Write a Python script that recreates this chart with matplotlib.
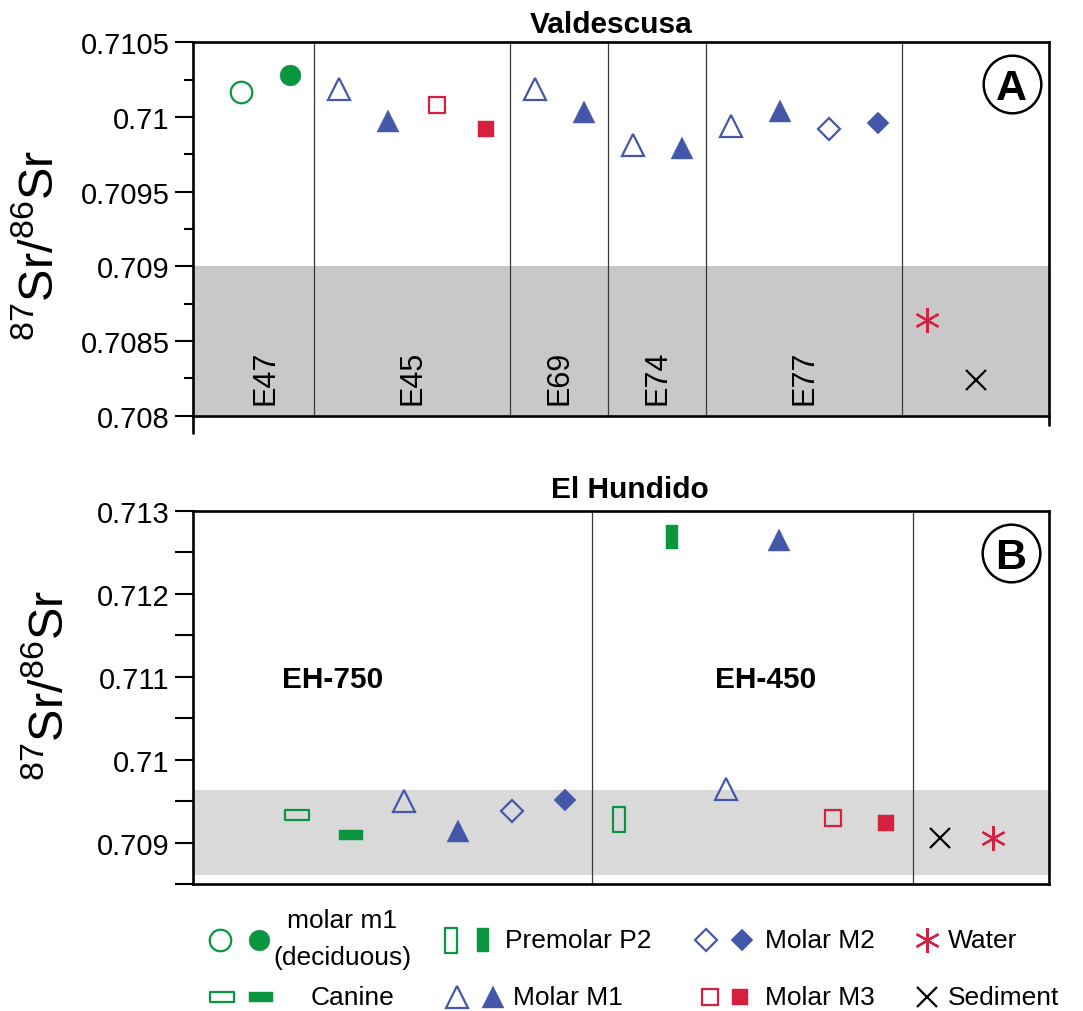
import matplotlib
matplotlib.use("Agg")
import matplotlib.pyplot as plt
import matplotlib.transforms as mtransforms
from matplotlib.path import Path
from matplotlib.ticker import AutoMinorLocator

plt.rcParams['font.family'] = ['Liberation Sans', 'DejaVu Sans']
plt.rcParams['mathtext.fontset'] = 'custom'
plt.rcParams['mathtext.rm'] = 'Liberation Sans'
plt.rcParams['mathtext.default'] = 'regular'

# ---------------- data ----------------
top_title = "Valdescusa"
top_groups = ["E47", "E45", "E69", "E74", "E77", ""]
top_sample_group = [0, 0, 1, 1, 1, 1, 2, 2, 3, 3, 4, 4, 4, 4, 5, 5]
top_tooth = ["m1", "m1", "M1", "M1", "M3", "M3", "M1", "M1", "M1", "M1",
             "M1", "M1", "M2", "M2", "Water", "Sediment"]
top_filled = [0, 1, 0, 1, 0, 1, 0, 1, 0, 1, 0, 1, 0, 1, 0, 0]
top_values = [0.71017, 0.71028, 0.71019, 0.70997, 0.71008, 0.70992,
              0.71019, 0.71003, 0.70981, 0.70979, 0.70994, 0.71004,
              0.70992, 0.70996, 0.70864, 0.70824]
top_band = [0.708, 0.709]
top_yticks = [0.708, 0.7085, 0.709, 0.7095, 0.710, 0.7105]
top_yticklabels = ["0.708", "0.7085", "0.709", "0.7095", "0.71", "0.7105"]

bot_title = "El Hundido"
bot_groups = ["EH-750", "EH-450", ""]
bot_sample_group = [0, 0, 0, 0, 0, 0, 1, 1, 1, 1, 1, 1, 2, 2]
bot_tooth = ["C", "C", "M1", "M1", "M2", "M2", "P2", "P2", "M1", "M1",
             "M3", "M3", "Sediment", "Water"]
bot_filled = [0, 1, 0, 1, 0, 1, 0, 1, 0, 1, 0, 1, 0, 0]
bot_values = [0.70933, 0.70909, 0.70950, 0.70914, 0.70938, 0.70951,
              0.70928, 0.71268, 0.70964, 0.71265, 0.70930, 0.70924,
              0.70905, 0.70905]
bot_band = [0.70861, 0.70963]
bot_yticks = [0.709, 0.710, 0.711, 0.712, 0.713]
bot_yticklabels = ["0.709", "0.71", "0.711", "0.712", "0.713"]

legend_rows = [
    [("m1", "molar m1\n(deciduous)"), ("P2", "Premolar P2"), ("M2", "Molar M2"), ("Water", "Water")],
    [("C", "Canine"), ("M1", "Molar M1"), ("M3", "Molar M3"), ("Sediment", "Sediment")],
]

# ---------------- styles ----------------
GREEN = "#0a9641"
BLUE = "#4457a9"
RED = "#d6203f"
rect_wide = Path([(-1, -0.45), (1, -0.45), (1, 0.45), (-1, 0.45), (-1, -0.45)], closed=True)
rect_tall = Path([(-0.46, -1), (0.46, -1), (0.46, 1), (-0.46, 1), (-0.46, -1)], closed=True)
STYLE = {
    "m1": dict(marker="o", color=GREEN, ms_open=15.5, ms_fill=15),
    "C": dict(marker=rect_wide, color=GREEN, ms_open=17.5, ms_fill=17.5),
    "P2": dict(marker=rect_tall, color=GREEN, ms_open=18, ms_fill=17.5),
    "M1": dict(marker="^", color=BLUE, ms_open=16.5, ms_fill=15.5),
    "M2": dict(marker="D", color=BLUE, ms_open=11.5, ms_fill=11),
    "M3": dict(marker="s", color=RED, ms_open=12, ms_fill=11.5),
    "Water": dict(marker=(6, 2, 0), color=RED, ms=18),
    "Sediment": dict(marker="x", color="black", ms=14),
}


def draw_marker(ax, x, y, tooth, filled, **kw):
    st = STYLE[tooth]
    if tooth in ("Water", "Sediment"):
        ax.plot([x], [y], ls="none", marker=st["marker"], ms=st["ms"],
                color=st["color"], mew=1.6, zorder=5, **kw)
    elif filled:
        ax.plot([x], [y], ls="none", marker=st["marker"], ms=st["ms_fill"],
                mfc=st["color"], mec=st["color"], mew=0.3, zorder=5, **kw)
    else:
        ax.plot([x], [y], ls="none", marker=st["marker"], ms=st["ms_open"],
                mfc="none", mec=st["color"], mew=1.6, zorder=5, **kw)


W, H = 1083, 1012
fig = plt.figure(figsize=(W / 100, H / 100), dpi=100)


def px_axes(l, t, r, b):
    return fig.add_axes([l / W, 1 - b / H, (r - l) / W, (b - t) / H])


def setup_panel(ax, groups_of, tooth, filled, values, band, band_color,
                yticks, yticklabels, ylim, xlim, minor_len):
    ax.set_xlim(*xlim)
    ax.set_ylim(*ylim)
    ax.axhspan(band[0], band[1], color=band_color, lw=0, zorder=0)
    for i in range(len(groups_of) - 1):
        if groups_of[i] != groups_of[i + 1]:
            ax.axvline(i + 0.5, color="#3a3a3a", lw=0.9, zorder=1)
    for i, (t, f, v) in enumerate(zip(tooth, filled, values)):
        draw_marker(ax, i, v, t, f)
    ax.set_xticks([])
    ax.set_yticks(yticks)
    ax.set_yticklabels(yticklabels)
    ax.yaxis.set_minor_locator(AutoMinorLocator(2))
    ax.tick_params(axis="y", which="major", length=13, width=1.5, pad=4,
                   labelsize=21, direction="out")
    ax.tick_params(axis="y", which="minor", length=minor_len, width=1.5,
                   direction="out")
    for s in ax.spines.values():
        s.set_linewidth(1.9)
        s.set_zorder(6)


# ---------------- top panel ----------------
ax1 = px_axes(193, 43.3, 1049, 416.7)
setup_panel(ax1, top_sample_group, top_tooth, top_filled, top_values, top_band,
            "#c8c8c8", top_yticks, top_yticklabels, (0.708, 0.7105),
            (-0.98, 16.5), 6.5)
trans1 = mtransforms.blended_transform_factory(ax1.transData, ax1.transAxes)
for g, name in enumerate(top_groups):
    if not name:
        continue
    xs = [i for i, gg in enumerate(top_sample_group) if gg == g]
    ax1.text(sum(xs) / len(xs), 0.031, name, transform=trans1, rotation=90,
             ha="center", va="bottom", fontsize=22, zorder=4)
ax1.plot([0, 0], [0, -0.048], transform=ax1.transAxes, color="black", lw=1.9,
         clip_on=False, solid_capstyle="butt")
ax1.plot([1, 1], [0, -0.028], transform=ax1.transAxes, color="black", lw=1.9,
         clip_on=False, solid_capstyle="butt")
ax1.plot([0.9564], [0.888], transform=ax1.transAxes, marker="o", ms=41.5,
         mfc="white", mec="black", mew=1.8, zorder=7, clip_on=False)
ax1.text(0.9564, 0.878, "A", transform=ax1.transAxes, ha="center", va="center",
         fontsize=31, fontweight="bold", zorder=8)

# ---------------- bottom panel ----------------
ax2 = px_axes(193, 511.7, 1049, 885)
setup_panel(ax2, bot_sample_group, bot_tooth, bot_filled, bot_values, bot_band,
            "#d9d9d9", bot_yticks, bot_yticklabels, (0.7085, 0.713),
            (-1.95, 14.04), 13)
ax2.text(0.66, 0.71097, bot_groups[0], ha="center", va="center", fontsize=21.5,
         fontweight="bold")
ax2.text(8.74, 0.71097, bot_groups[1], ha="center", va="center", fontsize=21.5,
         fontweight="bold")
ax2.plot([0.9556], [0.8867], transform=ax2.transAxes, marker="o", ms=41.5,
         mfc="white", mec="black", mew=1.8, zorder=7, clip_on=False)
ax2.text(0.9556, 0.876, "B", transform=ax2.transAxes, ha="center", va="center",
         fontsize=31, fontweight="bold", zorder=8)

# titles and y labels
fig.text(611 / W, 1 - 25 / H, top_title, ha="center", va="center",
         fontsize=21.5, fontweight="bold")
fig.text(630 / W, 1 - 490 / H, bot_title, ha="center", va="center",
         fontsize=21.5, fontweight="bold")
ylab = r"$^{87}$Sr/$^{86}$Sr"
fig.text(40 / W, 1 - 245 / H, ylab, rotation=90, ha="center", va="center",
         fontsize=35)
fig.text(50 / W, 1 - 685 / H, ylab, rotation=90, ha="center", va="center",
         fontsize=35)

# ---------------- legend ----------------
lax = fig.add_axes([0, 0, 1, 1], zorder=-1)
lax.set_xlim(0, W)
lax.set_ylim(H, 0)
lax.axis("off")
row_y = [941, 998]
col_open_x = [[220, 451, 706, 927], [222, 457, 710, 927]]
col_fill_x = [[259, 483, 742, None], [261, 493, 740, None]]
col_text_x = [[342, 505, 765, 948], [352, 513, 765, 948]]
for r, row in enumerate(legend_rows):
    for c, (tooth, label) in enumerate(row):
        y = row_y[r]
        draw_marker(lax, col_open_x[r][c], y, tooth, 0, clip_on=False)
        if col_fill_x[r][c] is not None:
            draw_marker(lax, col_fill_x[r][c], y, tooth, 1, clip_on=False)
        if "\n" in label:
            l1, l2 = label.split("\n")
            lax.text(col_text_x[r][c], 921, l1, ha="center", va="center", fontsize=19)
            lax.text(col_text_x[r][c], 958, l2, ha="center", va="center", fontsize=19)
        elif c == 0:
            lax.text(col_text_x[r][c], y, label, ha="center", va="center", fontsize=19)
        else:
            lax.text(col_text_x[r][c], y, label, ha="left", va="center", fontsize=19)

fig.savefig("out.png", dpi=100)
